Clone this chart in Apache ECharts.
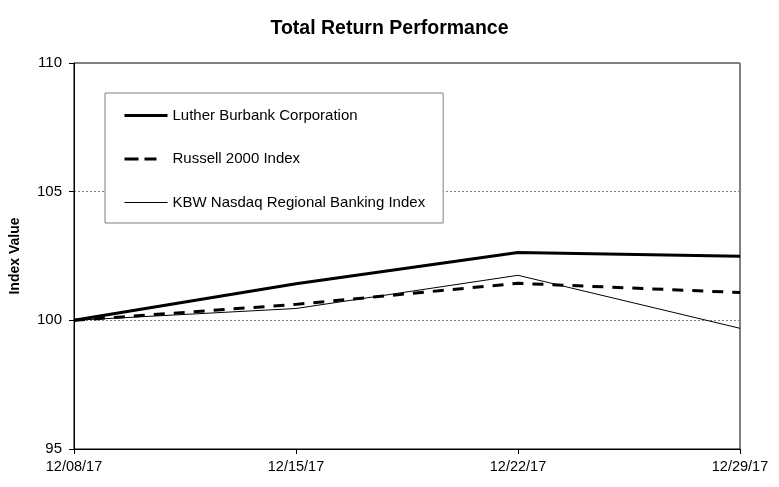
<!DOCTYPE html>
<html>
<head>
<meta charset="utf-8">
<script src="https://cdn.jsdelivr.net/npm/echarts@6/dist/echarts.min.js"></script>
<style>
html,body{margin:0;padding:0;background:#fff;}
#chart{width:779px;height:487px;}
</style>
</head>
<body>
<div id="chart"></div>
<script>
var categories = ['12/08/17', '12/15/17', '12/22/17', '12/29/17'];
var lutherBurbank = [100, 101.42, 102.64, 102.49];
var russell2000 = [100, 100.62, 101.44, 101.08];
var kbwRegional = [100, 100.46, 101.75, 99.69];
var seriesNames = ['Luther Burbank Corporation', 'Russell 2000 Index', 'KBW Nasdaq Regional Banking Index'];
var yTicks = [95, 100, 105, 110];

var font = 'Liberation Sans, Arial, sans-serif';
var chart = echarts.init(document.getElementById('chart'), null, {renderer: 'canvas'});
chart.setOption({
  animation: false,
  backgroundColor: '#ffffff',
  title: {
    text: 'Total Return Performance',
    left: 'center',
    top: 14,
    textStyle: {fontFamily: font, fontSize: 19.5, fontWeight: 'bold', color: '#000'}
  },
  grid: {
    left: 73, right: 39, top: 63, bottom: 38,
    show: true, borderColor: '#000', borderWidth: 1, backgroundColor: 'transparent'
  },
  legend: {
    orient: 'vertical',
    left: 105, top: 93,
    padding: [15, 18, 13, 18],
    itemGap: 28.5,
    itemWidth: 43,
    itemHeight: 14,
    borderColor: '#808080',
    borderWidth: 1,
    backgroundColor: '#fff',
    itemStyle: {opacity: 0},
    data: [
      {name: seriesNames[0], lineStyle: {width: 3, type: 'solid', color: '#000'}},
      {name: seriesNames[1], lineStyle: {width: 3, type: [14, 6, 12, 11], color: '#000'}},
      {name: seriesNames[2], lineStyle: {width: 1, type: 'solid', color: '#000'}}
    ],
    textStyle: {fontFamily: font, fontSize: 15, color: '#000', padding: [0, 0, 0, 0]}
  },
  xAxis: {
    type: 'category',
    data: categories,
    boundaryGap: false,
    axisLine: {lineStyle: {color: '#000', width: 1}},
    axisTick: {show: true, length: 5, inside: false, lineStyle: {color: '#000'}},
    axisLabel: {fontFamily: font, fontSize: 14.5, color: '#000', margin: 10, showMinLabel: true, showMaxLabel: true},
    splitLine: {show: false}
  },
  yAxis: {
    type: 'value',
    min: yTicks[0], max: yTicks[yTicks.length - 1], interval: 5,
    name: 'Index Value',
    nameLocation: 'middle',
    nameGap: 52,
    nameRotate: 90,
    nameTextStyle: {fontFamily: font, fontSize: 14, fontWeight: 'bold', color: '#000'},
    axisLine: {show: true, lineStyle: {color: '#000', width: 1}},
    axisTick: {show: true, length: 5, lineStyle: {color: '#000'}},
    axisLabel: {fontFamily: font, fontSize: 15, color: '#000', margin: 12},
    splitLine: {show: true, lineStyle: {color: '#808080', type: [2, 2], width: 1}}
  },
  series: [
    {
      name: seriesNames[0], type: 'line', data: lutherBurbank,
      symbol: 'none', showSymbol: false,
      lineStyle: {color: '#000', width: 3, type: 'solid'},
      itemStyle: {color: '#000'}, z: 5
    },
    {
      name: seriesNames[1], type: 'line', data: russell2000,
      symbol: 'none', showSymbol: false,
      lineStyle: {color: '#000', width: 3, type: [11, 9]},
      itemStyle: {color: '#000'}, z: 4
    },
    {
      name: seriesNames[2], type: 'line', data: kbwRegional,
      symbol: 'none', showSymbol: false,
      lineStyle: {color: '#000', width: 1, type: 'solid'},
      itemStyle: {color: '#000'}, z: 3
    }
  ]
});
</script>
</body>
</html>
